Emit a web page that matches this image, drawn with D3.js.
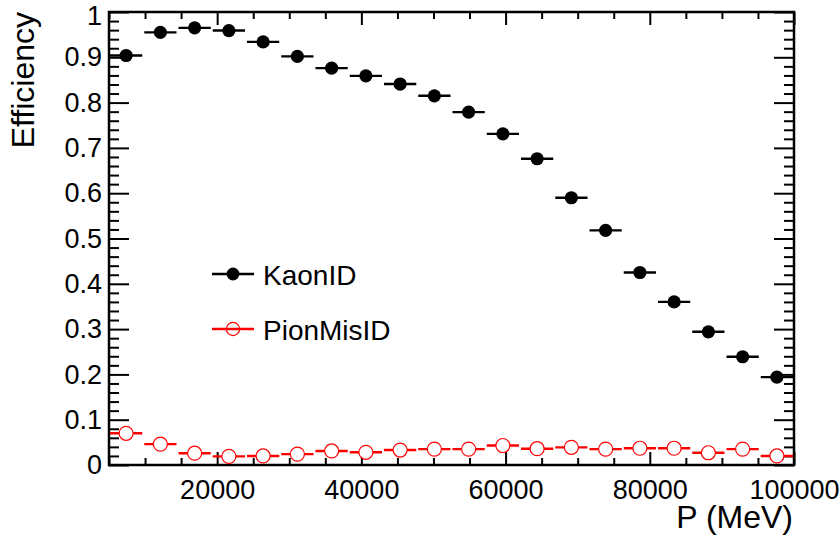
<!DOCTYPE html>
<html>
<head>
<meta charset="utf-8">
<script src="https://cdn.jsdelivr.net/npm/d3@7"></script>
<style>
  html, body { margin: 0; padding: 0; background: #fff; }
  svg text { font-family: "Liberation Sans", Arial, Helvetica, sans-serif; fill: #000; }
</style>
</head>
<body>
<svg id="chart" width="840" height="538"></svg>
<script>
// Momentum bin edges (MeV)
const binEdges = [5000, 9750, 14500, 19250, 24000, 28750, 33500, 38250, 43000, 47750,
                  52500, 57250, 62000, 66750, 71500, 76250, 81000, 85750, 90500, 95250, 100000];

// Efficiency per bin
const kaonID = [0.904, 0.955, 0.965, 0.959, 0.934, 0.902, 0.876, 0.859, 0.841, 0.815,
                0.779, 0.731, 0.676, 0.590, 0.518, 0.425, 0.360, 0.294, 0.239, 0.194];
const pionMisID = [0.070, 0.046, 0.026, 0.019, 0.020, 0.024, 0.031, 0.028, 0.033, 0.035,
                   0.035, 0.043, 0.036, 0.039, 0.035, 0.037, 0.037, 0.027, 0.035, 0.020];

const xMajor = [20000, 40000, 60000, 80000, 100000];
const xMinor = [5000, 10000, 15000, 25000, 30000, 35000, 45000, 50000, 55000, 65000,
                70000, 75000, 85000, 90000, 95000];
const yMajor = [0, 0.1, 0.2, 0.3, 0.4, 0.5, 0.6, 0.7, 0.8, 0.9, 1];
const yMinor = [0.02, 0.04, 0.06, 0.08, 0.12, 0.14, 0.16, 0.18, 0.22, 0.24, 0.26, 0.28,
                0.32, 0.34, 0.36, 0.38, 0.42, 0.44, 0.46, 0.48, 0.52, 0.54, 0.56, 0.58,
                0.62, 0.64, 0.66, 0.68, 0.72, 0.74, 0.76, 0.78, 0.82, 0.84, 0.86, 0.88,
                0.92, 0.94, 0.96, 0.98];

const series = [
  { name: "KaonID", values: kaonID, color: "#000000", filled: true },
  { name: "PionMisID", values: pionMisID, color: "#ff0000", filled: false }
];

const frame = { left: 109, right: 794, top: 12, bottom: 465 };
const svg = d3.select("#chart");

const x = d3.scaleLinear().domain([5000, 100000]).range([frame.left, frame.right]);
const y = d3.scaleLinear().domain([0, 1]).range([frame.bottom, frame.top]);

function axisGroup(axis, tx, ty, labels) {
  const g = svg.append("g").attr("transform", `translate(${tx},${ty})`).call(axis);
  g.select(".domain").remove();
  g.selectAll(".tick line").attr("stroke", "#000").attr("stroke-width", 2);
  if (!labels) g.selectAll(".tick text").remove();
  return g;
}

// bottom axis: major with labels, minor ticks
const fmtX = d => String(d);
const bx = axisGroup(d3.axisBottom(x).tickValues(xMajor).tickSize(-13).tickPadding(15).tickFormat(fmtX),
          0, frame.bottom, true);
bx.selectAll(".tick text").attr("font-size", 27);
axisGroup(d3.axisBottom(x).tickValues(xMinor).tickSize(-7).tickFormat(""), 0, frame.bottom, false);
// top axis
axisGroup(d3.axisTop(x).tickValues(xMajor).tickSize(-13).tickFormat(""), 0, frame.top, false);
axisGroup(d3.axisTop(x).tickValues(xMinor).tickSize(-7).tickFormat(""), 0, frame.top, false);

// left axis
const fmtY = d => d === 0 ? "0" : d === 1 ? "1" : d3.format(".1f")(d);
const ly = axisGroup(d3.axisLeft(y).tickValues(yMajor).tickSize(-20).tickPadding(7).tickFormat(fmtY),
          frame.left, 0, true);
ly.selectAll(".tick text").attr("font-size", 27);
// keep the top label inside the page
ly.selectAll(".tick text").filter(d => d === 1).attr("y", 4);
axisGroup(d3.axisLeft(y).tickValues(yMinor).tickSize(-10).tickFormat(""), frame.left, 0, false);
// right axis
axisGroup(d3.axisRight(y).tickValues(yMajor).tickSize(-20).tickFormat(""), frame.right, 0, false);
axisGroup(d3.axisRight(y).tickValues(yMinor).tickSize(-10).tickFormat(""), frame.right, 0, false);

// frame
svg.append("rect")
  .attr("x", frame.left).attr("y", frame.top)
  .attr("width", frame.right - frame.left).attr("height", frame.bottom - frame.top)
  .attr("fill", "none").attr("stroke", "#000").attr("stroke-width", 2.5);

// data: horizontal bin-width bars with markers
series.forEach(s => {
  const g = svg.append("g");
  const pts = s.values.map((v, i) => ({ lo: binEdges[i], hi: binEdges[i + 1], v }));
  g.selectAll("line.bar").data(pts).join("line")
    .attr("class", "bar")
    .attr("x1", d => x(d.lo) + 1).attr("x2", d => x(d.hi) - 1)
    .attr("y1", d => y(d.v)).attr("y2", d => y(d.v))
    .attr("stroke", s.color).attr("stroke-width", 2.4);
  g.selectAll("circle").data(pts).join("circle")
    .attr("cx", d => x((d.lo + d.hi) / 2)).attr("cy", d => y(d.v))
    .attr("r", s.filled ? 6.6 : 7)
    .attr("fill", s.filled ? s.color : "#fff")
    .attr("stroke", s.color).attr("stroke-width", s.filled ? 0 : 1.2);
});

// legend
const legend = svg.append("g");
series.forEach((s, i) => {
  const cy = 274 + i * 55;
  legend.append("line").attr("x1", 212).attr("x2", 254).attr("y1", cy).attr("y2", cy)
    .attr("stroke", s.color).attr("stroke-width", 2.4);
  legend.append("circle").attr("cx", 233).attr("cy", cy).attr("r", s.filled ? 6.4 : 6.6)
    .attr("fill", s.filled ? s.color : "none")
    .attr("stroke", s.color).attr("stroke-width", s.filled ? 0 : 1.2);
  legend.append("text").attr("x", 263).attr("y", cy + 11).attr("font-size", 28).text(s.name);
});

// axis titles
svg.append("text").attr("x", 793).attr("y", 528).attr("text-anchor", "end")
  .attr("font-size", 32).text("P (MeV)");
svg.append("text").attr("transform", "translate(34,12) rotate(-90)")
  .attr("text-anchor", "end").attr("font-size", 32).text("Efficiency");
</script>
</body>
</html>
